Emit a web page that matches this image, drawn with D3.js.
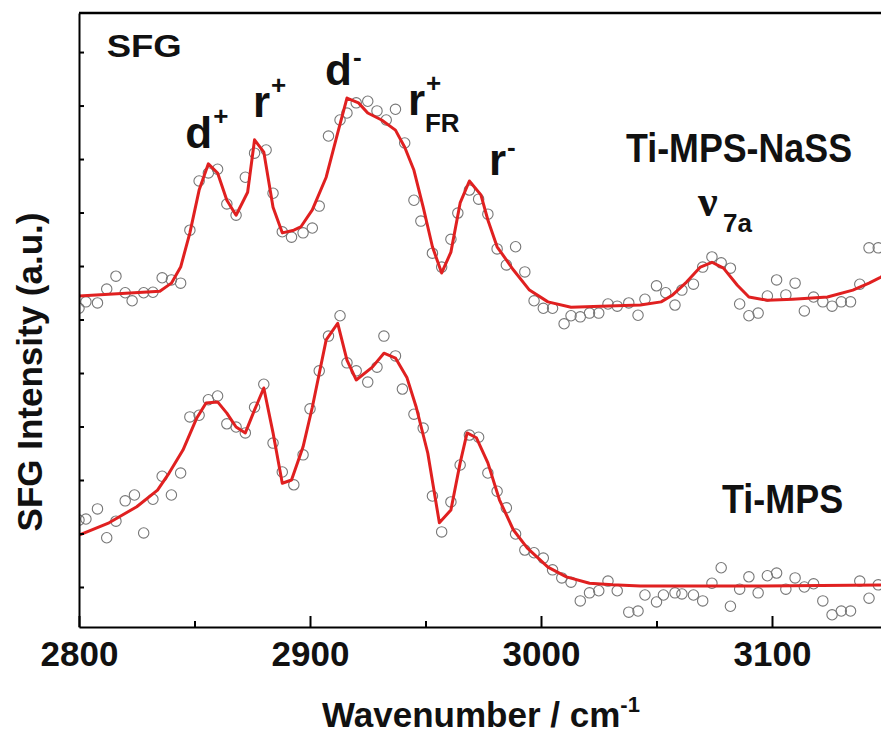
<!DOCTYPE html>
<html>
<head>
<meta charset="utf-8">
<script src="https://cdn.jsdelivr.net/npm/d3@7"></script>
<style>
  body { margin: 0; background: #fff; }
  text { font-family: "Liberation Sans", Arial, sans-serif; font-weight: bold; fill: #111; }
</style>
</head>
<body>
<div id="chart"></div>
<script>
// Ti-MPS-NaSS : measured points [wavenumber, intensity a.u.]
var nassPoints = [[2800,5.21],[2803,5.33],[2808,5.31],[2812,5.57],[2816,5.81],[2820,5.50],[2823,5.35],[2828,5.50],
  [2832,5.51],[2836,5.78],[2840,5.74],[2844,5.68],[2848,6.67],[2852,7.59],[2856,7.74],[2860,7.81],[2864,7.16],
  [2868,6.95],[2872,7.66],[2876,8.11],[2881,8.17],[2884,7.36],[2888,6.64],[2892,6.54],[2897,6.62],[2901,6.71],
  [2904,7.12],[2908,8.43],[2913,8.73],[2916,8.86],[2920,9.05],[2925,9.08],[2929,8.90],[2933,8.73],[2937,8.93],
  [2941,8.30],[2945,7.23],[2948,6.84],[2953,6.24],[2957,5.98],[2961,6.50],[2964,6.99],[2969,7.42],[2973,7.25],
  [2977,6.97],[2981,6.32],[2985,6.02],[2989,6.36],[2993,5.89],[2997,5.35],[3001,5.21],[3005,5.21],[3010,4.92],
  [3013,5.07],[3017,5.05],[3021,5.12],[3025,5.12],[3029,5.29],[3033,5.25],[3038,5.31],[3042,5.08],[3045,5.38],
  [3050,5.63],[3054,5.50],[3058,5.27],[3061,5.55],[3066,5.66],[3070,5.98],[3074,6.17],[3078,6.06],[3082,5.96],
  [3086,5.29],[3090,5.07],[3094,5.12],[3098,5.44],[3102,5.74],[3106,5.46],[3110,5.68],[3114,5.16],[3118,5.42],
  [3122,5.33],[3126,5.25],[3130,5.33],[3134,5.33],[3138,5.66],[3142,6.34],[3146,6.34]];

// Ti-MPS-NaSS : fitted curve
var nassFit = [[2800,5.44],[2835,5.53],[2840,5.68],[2844,5.98],[2848,6.62],[2852,7.42],[2856,7.91],[2860,7.74],
  [2864,7.23],[2868,6.95],[2873,7.38],[2876,8.36],[2880,8.13],[2884,7.10],[2888,6.62],[2893,6.67],[2896,6.73],
  [2901,7.05],[2907,7.66],[2912,8.49],[2916,9.14],[2921,9.05],[2925,8.86],[2931,8.73],[2937,8.54],[2941,8.22],
  [2945,7.79],[2949,7.10],[2953,6.36],[2957,5.87],[2961,6.26],[2965,7.18],[2969,7.59],[2974,7.33],[2977,6.86],
  [2981,6.36],[2988,5.93],[2995,5.55],[3003,5.33],[3013,5.23],[3026,5.25],[3043,5.27],[3052,5.33],[3057,5.46],
  [3063,5.70],[3069,5.98],[3074,6.07],[3079,5.96],[3085,5.64],[3090,5.42],[3098,5.36],[3109,5.38],[3124,5.42],
  [3135,5.55],[3142,5.68],[3147,5.79],[3150,5.87]];

// Ti-MPS : measured points
var mpsPoints = [[2800,1.25],[2803,1.27],[2808,1.46],[2812,0.92],[2816,1.23],[2820,1.61],[2824,1.72],[2828,1.01],
  [2832,1.64],[2836,2.07],[2840,1.72],[2844,2.13],[2848,3.18],[2852,3.21],[2856,3.50],[2860,3.57],[2864,3.05],
  [2868,2.99],[2872,2.88],[2876,3.36],[2880,3.79],[2884,2.69],[2888,2.15],[2893,1.91],[2897,2.47],[2900,3.33],
  [2904,4.04],[2908,4.69],[2913,5.07],[2916,4.19],[2920,4.04],[2925,3.83],[2929,4.11],[2932,4.69],[2937,4.32],
  [2940,3.70],[2945,3.23],[2949,2.97],[2953,1.70],[2957,1.03],[2961,1.59],[2965,2.28],[2969,2.84],[2973,2.80],
  [2977,2.13],[2981,1.79],[2985,1.48],[2989,0.99],[2993,0.69],[2997,0.64],[3001,0.54],[3005,0.32],[3009,0.17],
  [3013,0.09],[3017,-0.26],[3021,-0.11],[3025,-0.07],[3029,0.11],[3033,-0.07],[3038,-0.47],[3042,-0.45],
  [3045,-0.15],[3050,-0.28],[3053,-0.15],[3058,-0.11],[3061,-0.13],[3066,-0.15],[3070,-0.26],[3074,0.07],
  [3078,0.36],[3082,-0.36],[3086,-0.04],[3090,0.19],[3094,-0.11],[3098,0.21],[3102,0.26],[3106,-0.04],
  [3110,0.17],[3114,0.00],[3118,0.06],[3122,-0.26],[3126,-0.52],[3130,-0.45],[3134,-0.45],[3138,0.11],
  [3142,-0.21],[3146,0.04]];

// Ti-MPS : fitted curve
var mpsFit = [[2800,0.97],[2813,1.20],[2825,1.50],[2834,1.81],[2839,2.13],[2845,2.56],[2851,3.16],[2855,3.44],
  [2860,3.46],[2864,3.25],[2868,2.99],[2872,2.88],[2876,3.31],[2880,3.72],[2884,2.88],[2888,1.94],[2892,2.00],
  [2897,2.62],[2901,3.36],[2907,4.62],[2912,4.93],[2916,4.24],[2920,3.87],[2927,4.11],[2932,4.37],[2937,4.28],
  [2942,3.91],[2946,3.36],[2951,2.50],[2956,1.20],[2961,1.44],[2965,2.32],[2968,2.88],[2972,2.79],[2977,2.32],
  [2982,1.63],[2988,1.07],[2994,0.73],[3003,0.37],[3011,0.19],[3021,0.07],[3031,0.04],[3043,0.02],[3069,0.02],
  [3095,0.02],[3150,0.04]];

var xTicks = [2800, 2900, 3000, 3100];
var xMinorTicks = [2850, 2950, 3050];
var yTicks = [0, 1, 2, 3, 4, 5, 6, 7, 8, 9, 10];

// peak labels: main glyph, superscript, subscript, anchor [wavenumber, intensity]
var peakLabels = [
  {main: "d", sup: "+", sub: "", at: [2846, 8.21]},
  {main: "r", sup: "+", sub: "", at: [2875.3, 8.79]},
  {main: "d", sup: "-", sub: "", at: [2906.5, 9.38]},
  {main: "r", sup: "+", sub: "FR", at: [2942.4, 8.82]},
  {main: "r", sup: "-", sub: "", at: [2977.5, 7.70]}
];

var W = 881, H = 739;
var svg = d3.select("#chart").append("svg")
  .attr("width", W)
  .attr("height", H);

var x = d3.scaleLinear().domain([2800, 3150]).range([79, 887.5]);
var y = d3.scaleLinear().domain([-0.748, 10.73]).range([627, 13]);

svg.append("clipPath").attr("id", "plotclip")
  .append("rect")
  .attr("x", x(2800)).attr("y", y(10.73))
  .attr("width", x(3150) - x(2800)).attr("height", y(-0.748) - y(10.73));

var plot = svg.append("g").attr("clip-path", "url(#plotclip)");

var line = d3.line()
  .x(function(d) { return x(d[0]); })
  .y(function(d) { return y(d[1]); });

[nassPoints, mpsPoints].forEach(function(pts) {
  plot.append("g").selectAll("circle")
    .data(pts)
    .enter().append("circle")
      .attr("cx", function(d) { return x(d[0]); })
      .attr("cy", function(d) { return y(d[1]); })
      .attr("r", 5.2)
      .attr("fill", "none")
      .attr("stroke", "#777")
      .attr("stroke-width", 1.1);
});

[nassFit, mpsFit].forEach(function(fit) {
  plot.append("path")
    .datum(fit)
    .attr("d", line)
    .attr("fill", "none")
    .attr("stroke", "#e02020")
    .attr("stroke-width", 3)
    .attr("stroke-linejoin", "round");
});

// axes
var xAxis = svg.append("g")
  .attr("transform", "translate(0," + y(-0.748) + ")")
  .call(d3.axisBottom(x).tickValues(xTicks).tickFormat(d3.format("d"))
    .tickSizeInner(-11).tickSizeOuter(0).tickPadding(14));
xAxis.selectAll("text")
  .attr("font-size", 35)
  .attr("font-family", "Liberation Sans, Arial, sans-serif")
  .attr("font-weight", "bold")
  .attr("fill", "#111");

svg.append("g")
  .attr("transform", "translate(0," + y(-0.748) + ")")
  .call(d3.axisBottom(x).tickValues(xMinorTicks).tickFormat("").tickSizeInner(-6).tickSizeOuter(0))
  .select(".domain").remove();

svg.append("g")
  .attr("transform", "translate(" + x(2800) + ",0)")
  .call(d3.axisLeft(y).tickValues(yTicks).tickFormat("").tickSizeInner(-5).tickSizeOuter(0));

// top frame line
svg.append("line")
  .attr("x1", x(2800)).attr("x2", x(3150))
  .attr("y1", y(10.73)).attr("y2", y(10.73))
  .attr("stroke", "#000");

svg.selectAll(".domain, .tick line")
  .attr("stroke", "#000")
  .attr("stroke-width", 2);
svg.selectAll("line").filter(function() { return !this.closest(".tick"); })
  .attr("stroke-width", 2.5);

// axis titles
var xt = svg.append("text")
  .attr("x", 481).attr("y", 727)
  .attr("text-anchor", "middle")
  .attr("font-size", 35);
xt.append("tspan").text("Wavenumber / cm");
xt.append("tspan").attr("font-size", 22).attr("dy", -15).text("-1");

svg.append("text")
  .attr("transform", "translate(42,372) rotate(-90)")
  .attr("text-anchor", "middle")
  .attr("font-size", 35)
  .text("SFG Intensity (a.u.)");

// annotations
svg.append("text")
  .attr("x", x(2812)).attr("y", y(9.91))
  .attr("font-size", 32)
  .attr("textLength", 75).attr("lengthAdjust", "spacingAndGlyphs")
  .text("SFG");

svg.append("text")
  .attr("x", x(3036.8)).attr("y", y(7.94))
  .attr("font-size", 40)
  .attr("textLength", 226).attr("lengthAdjust", "spacingAndGlyphs")
  .text("Ti-MPS-NaSS");

svg.append("text")
  .attr("x", x(3078.4)).attr("y", y(1.38))
  .attr("font-size", 40)
  .attr("textLength", 121).attr("lengthAdjust", "spacingAndGlyphs")
  .text("Ti-MPS");

var supOffset = {"+": -23, "-": -19};
peakLabels.forEach(function(p) {
  var px = x(p.at[0]), py = y(p.at[1]);
  var mainW = p.main === "d" ? 27 : 17;
  svg.append("text").attr("x", px).attr("y", py).attr("font-size", 44).text(p.main);
  svg.append("text").attr("x", px + mainW + 1).attr("y", py + supOffset[p.sup])
    .attr("font-size", 26).text(p.sup);
  if (p.sub) {
    svg.append("text").attr("x", px + mainW).attr("y", py + 17)
      .attr("font-size", 26).text(p.sub);
  }
});

// nu 7a
svg.append("text")
  .attr("x", x(3068)).attr("y", y(6.93))
  .attr("font-size", 44)
  .attr("font-weight", "normal")
  .style("font-family", "Liberation Serif, serif")
  .text("\u03bd");
svg.append("text")
  .attr("x", x(3068) + 25).attr("y", y(6.93) + 16)
  .attr("font-size", 26)
  .text("7a");
</script>
</body>
</html>
